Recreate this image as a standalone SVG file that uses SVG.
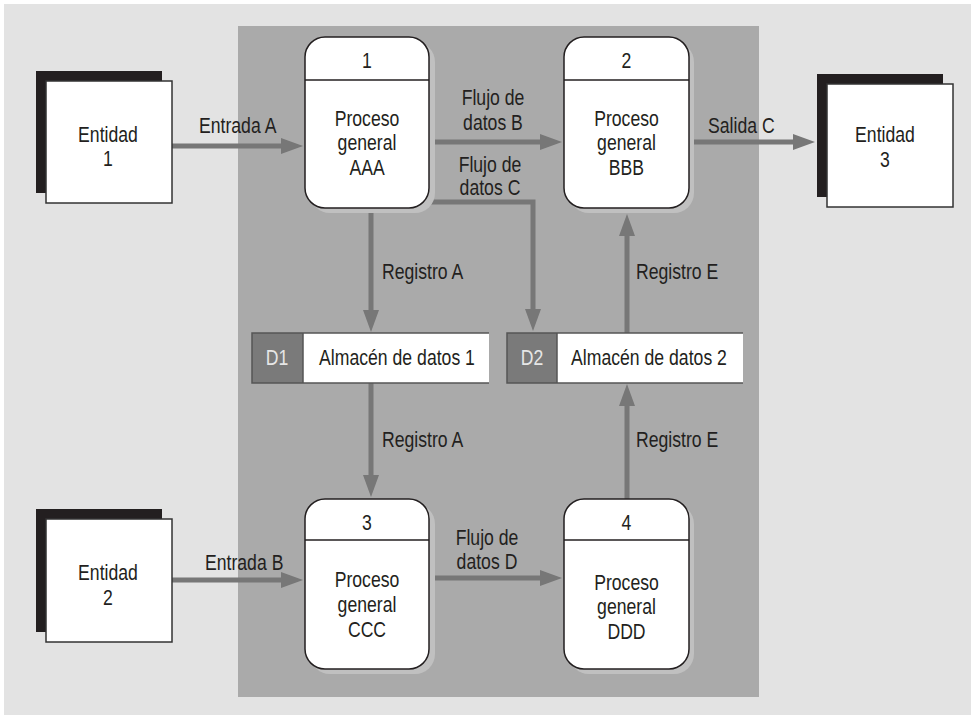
<svg xmlns="http://www.w3.org/2000/svg" width="971" height="715" viewBox="0 0 971 715">
<style>
text{font-family:"Liberation Sans",Arial,sans-serif;font-size:21.5px;fill:#231f20;transform-box:fill-box;transform-origin:center;transform:scaleX(0.82)}
.s{transform-origin:left center}
.c{text-anchor:middle}
.conn{fill:none;stroke:#777;stroke-width:5;marker-end:url(#ah)}
.ent-sh{fill:#231f20}
.ent{fill:#fff;stroke:#333;stroke-width:1.5}
.psh{fill:#c0c0c0}
.proc{fill:#fff;stroke:#231f20;stroke-width:1.5}
.div{stroke:#231f20;stroke-width:1.5}
.ds{fill:#fff}
.dsid{fill:#7a7a7a}
.dsb{fill:none;stroke:#555;stroke-width:1.5}
.dst{fill:#e6e6e6}
</style>
<defs>
<marker id="ah" markerUnits="userSpaceOnUse" markerWidth="22" markerHeight="16" refX="4" refY="8" orient="auto">
<path d="M0,0 L22,8 L0,16 z" fill="#777"/>
</marker>
</defs>
<rect x="0" y="0" width="971" height="715" fill="#fff"/>
<rect x="4" y="4" width="967" height="711" fill="#e3e3e3"/>
<rect x="238" y="26" width="521" height="671" fill="#aaa"/>

<g id="connectors">
<path class="conn" d="M172,146 H285"/>
<path class="conn" d="M172,580 H285"/>
<path class="conn" d="M429,142 H544"/>
<path class="conn" d="M689,142 H797"/>
<path class="conn" d="M429,202 H533 V313"/>
<path class="conn" d="M371,208 V314"/>
<path class="conn" d="M371,383 V479"/>
<path class="conn" d="M429,578 H544"/>
<path class="conn" d="M627,499 V402"/>
<path class="conn" d="M627,333 V232"/>
<text class="s" x="199" y="133">Entrada A</text>
<text class="s" x="205" y="570">Entrada B</text>
<text class="c" x="493" y="105">Flujo de</text>
<text class="c" x="493" y="130">datos B</text>
<text class="c" x="490" y="172">Flujo de</text>
<text class="c" x="490" y="195">datos C</text>
<text class="s" x="708" y="133">Salida C</text>
<text class="s" x="382" y="279">Registro A</text>
<text class="s" x="382" y="447">Registro A</text>
<text class="s" x="636" y="279">Registro E</text>
<text class="s" x="636" y="447">Registro E</text>
<text class="c" x="487" y="545">Flujo de</text>
<text class="c" x="487" y="569">datos D</text>
</g>

<g id="entidad1">
<rect class="ent-sh" x="36" y="71" width="126" height="122"/>
<rect class="ent" x="46" y="81" width="126" height="122"/>
<text class="c" x="108" y="142">Entidad</text>
<text class="c" x="108" y="166">1</text>
</g>
<g id="entidad2">
<rect class="ent-sh" x="36" y="509" width="126" height="123"/>
<rect class="ent" x="46" y="519" width="126" height="123"/>
<text class="c" x="108" y="580">Entidad</text>
<text class="c" x="108" y="605">2</text>
</g>
<g id="entidad3">
<rect class="ent-sh" x="817" y="74" width="126" height="123"/>
<rect class="ent" x="827" y="84" width="126" height="123"/>
<text class="c" x="885" y="142">Entidad</text>
<text class="c" x="885" y="167">3</text>
</g>

<g id="proceso1">
<rect class="psh" x="310" y="42" width="125" height="171" rx="20"/>
<rect class="proc" x="305" y="37" width="124" height="171" rx="20"/>
<line class="div" x1="305" y1="80" x2="429" y2="80"/>
<text class="c" x="367" y="68">1</text>
<text class="c" x="367" y="126">Proceso</text>
<text class="c" x="367" y="150">general</text>
<text class="c" x="367" y="175">AAA</text>
</g>
<g id="proceso2">
<rect class="psh" x="569" y="42" width="125" height="171" rx="20"/>
<rect class="proc" x="564" y="37" width="125" height="171" rx="20"/>
<line class="div" x1="564" y1="80" x2="689" y2="80"/>
<text class="c" x="626.5" y="68">2</text>
<text class="c" x="626.5" y="126">Proceso</text>
<text class="c" x="626.5" y="150">general</text>
<text class="c" x="626.5" y="175">BBB</text>
</g>
<g id="proceso3">
<rect class="psh" x="310" y="504" width="125" height="170" rx="20"/>
<rect class="proc" x="305" y="499" width="124" height="170" rx="20"/>
<line class="div" x1="305" y1="540" x2="429" y2="540"/>
<text class="c" x="367" y="530">3</text>
<text class="c" x="367" y="587">Proceso</text>
<text class="c" x="367" y="612">general</text>
<text class="c" x="367" y="637">CCC</text>
</g>
<g id="proceso4">
<rect class="psh" x="569" y="504" width="125" height="170" rx="20"/>
<rect class="proc" x="564" y="499" width="125" height="170" rx="20"/>
<line class="div" x1="564" y1="540" x2="689" y2="540"/>
<text class="c" x="626.5" y="530">4</text>
<text class="c" x="626.5" y="590">Proceso</text>
<text class="c" x="626.5" y="614">general</text>
<text class="c" x="626.5" y="639">DDD</text>
</g>

<g id="almacen1">
<rect class="ds" x="252" y="333" width="237" height="50"/>
<rect class="dsid" x="252" y="333" width="51" height="50"/>
<path class="dsb" d="M489,333 H252 V383 H489 M303,333 V383"/>
<text class="c dst" x="277" y="365">D1</text>
<text class="c" x="397" y="365">Almacén de datos 1</text>
</g>
<g id="almacen2">
<rect class="ds" x="507" y="333" width="236" height="50"/>
<rect class="dsid" x="507" y="333" width="50" height="50"/>
<path class="dsb" d="M743,333 H507 V383 H743 M557,333 V383"/>
<text class="c dst" x="532" y="365">D2</text>
<text class="c" x="649" y="365">Almacén de datos 2</text>
</g>
</svg>
